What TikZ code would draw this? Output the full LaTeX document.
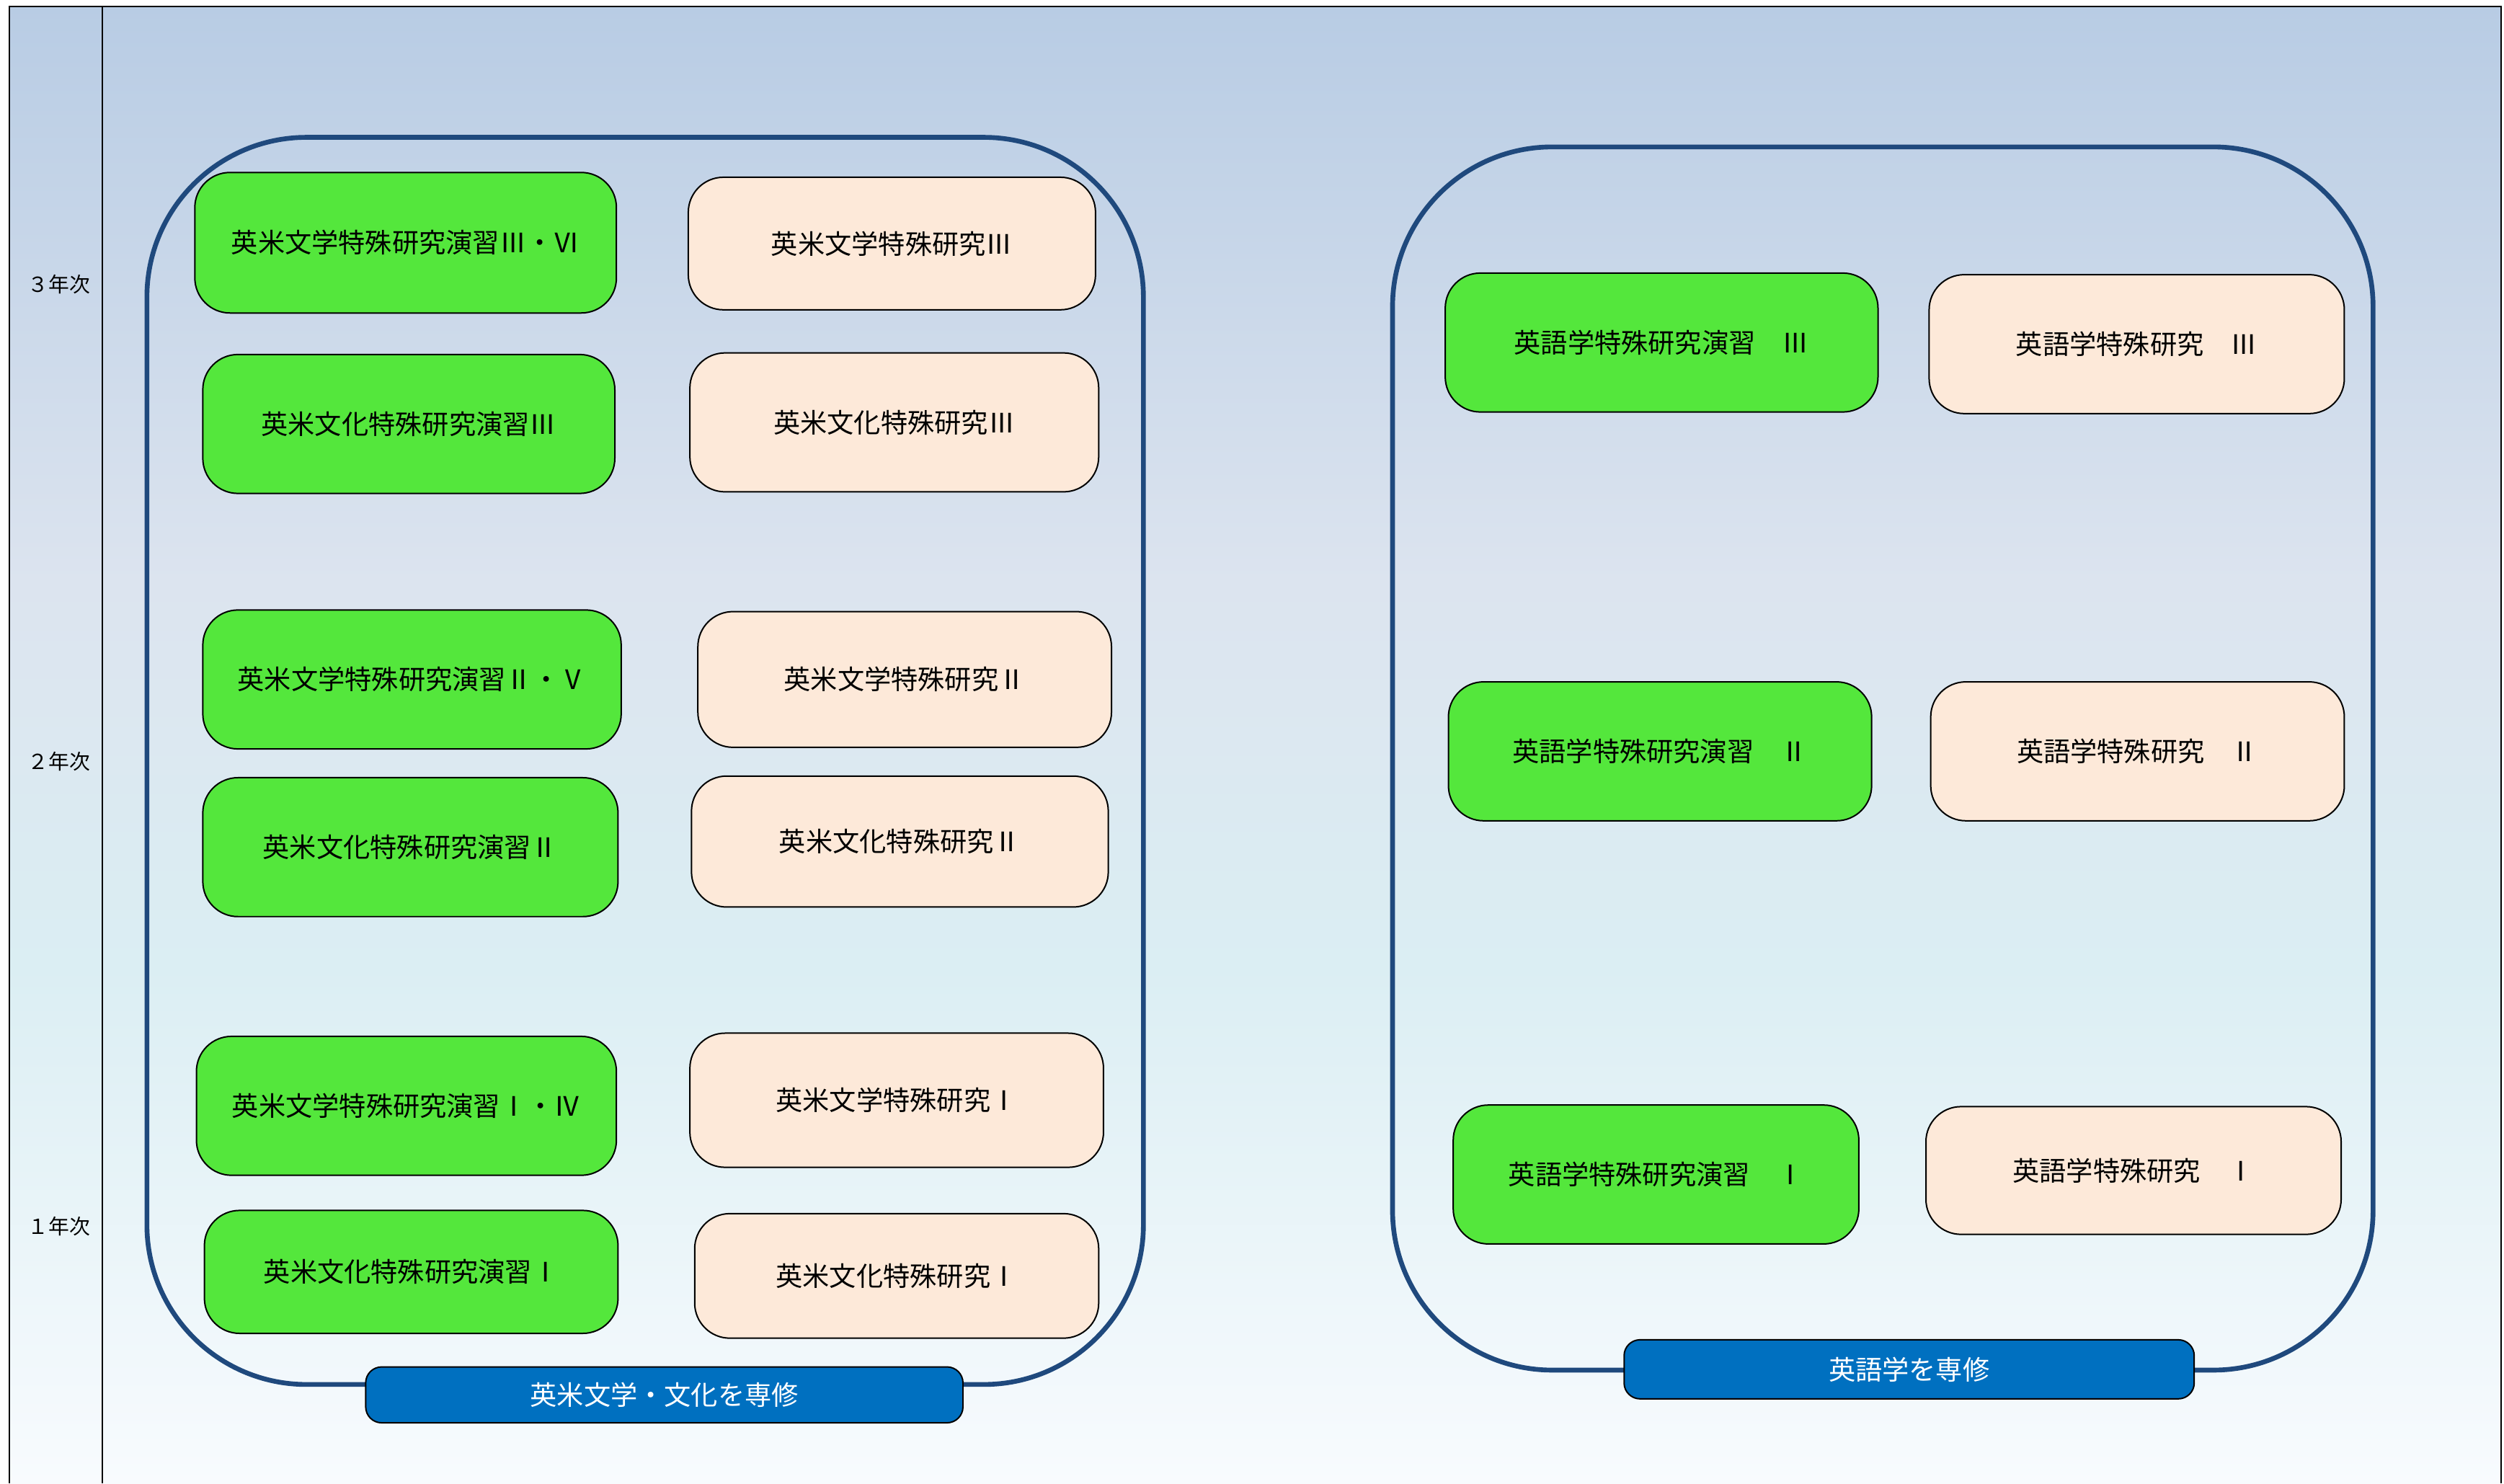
\documentclass[tikz,border=0pt]{standalone}
\usepackage{fontspec}
\newfontfamily\jp{Noto Sans CJK JP}
\definecolor{bgtop}{HTML}{B8CCE4}
\definecolor{bgmid}{HTML}{DCE4EF}
\definecolor{bgcyan}{HTML}{DBEEF3}
\definecolor{bgbot}{HTML}{F8FBFE}
\definecolor{cgreen}{HTML}{54E73C}
\definecolor{cpeach}{HTML}{FDE9D9}
\definecolor{cframe}{HTML}{1F497D}
\definecolor{clabel}{HTML}{0070C0}
\pgfdeclareverticalshading{bgshade}{100bp}{color(0bp)=(bgbot); color(25bp)=(bgbot); color(42.5bp)=(bgcyan); color(55.5bp)=(bgmid); color(75bp)=(bgtop); color(100bp)=(bgtop)}
\begin{document}
\begin{tikzpicture}[x=1pt,y=-1pt,
  box/.style={draw=black, line width=0.9pt, rounded corners=22pt, inner sep=0pt, align=center,
    font=\jp\fontsize{16.8}{18}\selectfont},
  gbox/.style={box, fill=cgreen},
  pbox/.style={box, fill=cpeach},
  container/.style={draw=cframe, line width=3pt, rounded corners=100pt, inner sep=0pt},
  tag/.style={draw=black, line width=0.9pt, fill=clabel, rounded corners=10pt, inner sep=0pt,
    text=white, font=\jp\fontsize{16.8}{18}\selectfont},
  year/.style={font=\jp\fontsize{13}{15}\selectfont, inner sep=0pt}]
\useasboundingbox (0,0) rectangle (1568,929);
\fill[white] (0,0) rectangle (1568,929);
\shade[shading=bgshade] (6,4) rectangle (1566,929);
\draw[line width=1pt] (6,929) -- (6,4) -- (1566,4) -- (1566,929);
\draw[line width=1pt] (64,4) -- (64,929);
\node[year] (y3) at (37,178) {３年次};
\node[year] (y2) at (37,477) {２年次};
\node[year] (y1) at (37,768) {１年次};
% containers
\node[container, minimum width=624pt, minimum height=781pt] (cL) at (404,476.5) {};
\node[container, minimum width=614pt, minimum height=766pt] (cR) at (1179,475) {};
% left green
\node[gbox, minimum width=264pt, minimum height=88pt] (g1) at (254,152) {英米文学特殊研究演習Ⅲ・Ⅵ};
\node[gbox, minimum width=258pt, minimum height=87pt] (g2) at (256,265.5) {英米文化特殊研究演習Ⅲ};
\node[gbox, minimum width=262pt, minimum height=87pt] (g3) at (258,425.5) {英米文学特殊研究演習Ⅱ・Ⅴ};
\node[gbox, minimum width=260pt, minimum height=87pt] (g4) at (257,530.5) {英米文化特殊研究演習Ⅱ};
\node[gbox, minimum width=263pt, minimum height=87pt] (g5) at (254.5,692.5) {英米文学特殊研究演習Ⅰ・Ⅳ};
\node[gbox, minimum width=259pt, minimum height=77pt] (g6) at (257.5,796.5) {英米文化特殊研究演習Ⅰ};
% left peach
\node[pbox, minimum width=255pt, minimum height=83pt] (p1) at (558.5,152.5) {英米文学特殊研究Ⅲ};
\node[pbox, minimum width=256pt, minimum height=87pt] (p2) at (560,264.5) {英米文化特殊研究Ⅲ};
\node[pbox, minimum width=259pt, minimum height=85pt] (p3) at (566.5,425.5) {英米文学特殊研究Ⅱ};
\node[pbox, minimum width=261pt, minimum height=82pt] (p4) at (563.5,527) {英米文化特殊研究Ⅱ};
\node[pbox, minimum width=259pt, minimum height=84pt] (p5) at (561.5,689) {英米文学特殊研究Ⅰ};
\node[pbox, minimum width=253pt, minimum height=78pt] (p6) at (561.5,799) {英米文化特殊研究Ⅰ};
% right green
\node[gbox, minimum width=271pt, minimum height=87pt] (rg1) at (1040.5,214.5) {英語学特殊研究演習　Ⅲ};
\node[gbox, minimum width=265pt, minimum height=87pt] (rg2) at (1039.5,470.5) {英語学特殊研究演習　Ⅱ};
\node[gbox, minimum width=254pt, minimum height=87pt] (rg3) at (1037,735.5) {英語学特殊研究演習　Ⅰ};
% right peach
\node[pbox, minimum width=260pt, minimum height=87pt] (rp1) at (1338,215.5) {英語学特殊研究　Ⅲ};
\node[pbox, minimum width=259pt, minimum height=87pt] (rp2) at (1338.5,470.5) {英語学特殊研究　Ⅱ};
\node[pbox, minimum width=260pt, minimum height=80pt] (rp3) at (1336,733) {英語学特殊研究　Ⅰ};
% tags
\node[tag, minimum width=374pt, minimum height=35pt] (tL) at (416,873.5) {英米文学・文化を専修};
\node[tag, minimum width=357pt, minimum height=37pt] (tR) at (1195.5,857.5) {英語学を専修};
\end{tikzpicture}
\end{document}
